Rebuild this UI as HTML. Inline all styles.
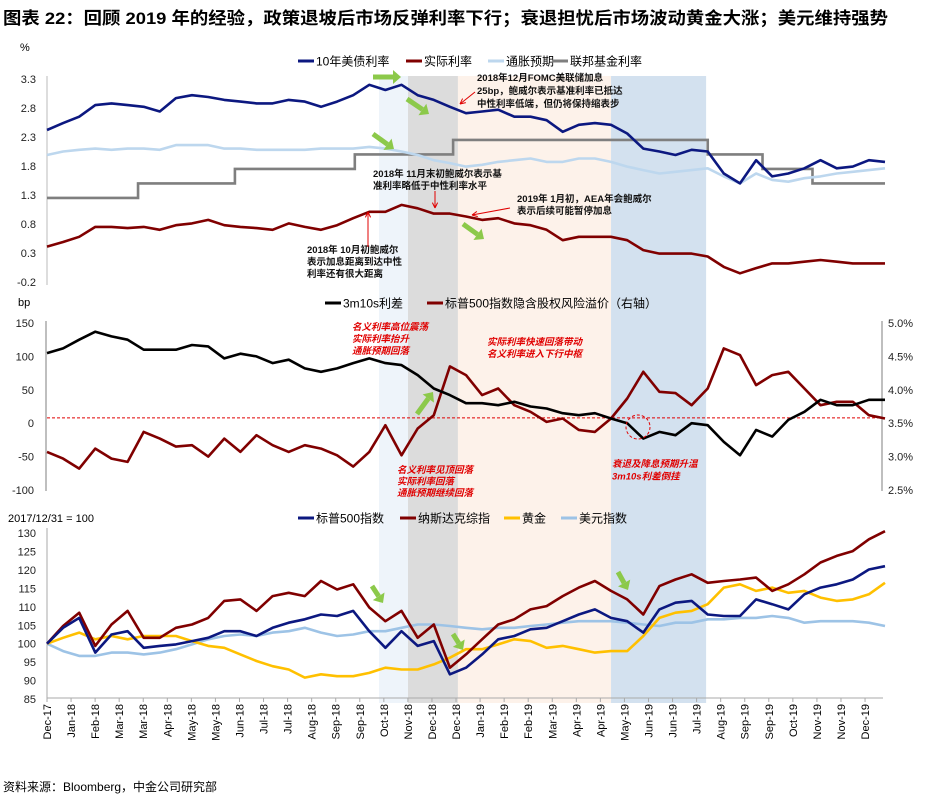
<!DOCTYPE html>
<html><head><meta charset="utf-8"><style>
body{margin:0;background:#fff;width:925px;height:800px;overflow:hidden;font-family:"Liberation Sans","Noto Sans CJK SC",sans-serif;}
svg text{font-family:"Liberation Sans","Noto Sans CJK SC",sans-serif;}
</style></head><body>
<svg id="chart" width="925" height="800" xmlns="http://www.w3.org/2000/svg">
<text x="3" y="24" font-size="17" font-weight="bold" fill="#000" textLength="885" lengthAdjust="spacingAndGlyphs">图表 22：回顾 2019 年的经验，政策退坡后市场反弹利率下行；衰退担忧后市场波动黄金大涨；美元维持强势</text>
<g id="bands"></g>
<g id="g1"></g>
<g id="g2"></g>
<g id="g3"></g>
<g id="ann"></g>
<text x="3" y="791" font-size="12" fill="#000">资料来源：Bloomberg，中金公司研究部</text>
</svg>
<script>
// ---- data (biweekly samples, Jan 2018 - Dec 2019) ----
const tenYear=[2.42,2.54,2.65,2.85,2.88,2.85,2.82,2.74,2.97,3.02,2.99,2.94,2.91,2.88,2.88,2.94,2.91,2.82,2.91,3.02,3.2,3.11,3.2,3.02,2.94,2.82,2.71,2.74,2.77,2.65,2.65,2.59,2.39,2.51,2.54,2.51,2.36,2.1,2.05,1.99,2.08,2.05,1.67,1.5,1.9,1.62,1.67,1.76,1.9,1.76,1.79,1.9,1.87];
const breakeven=[1.99,2.05,2.08,2.1,2.08,2.1,2.1,2.08,2.16,2.16,2.16,2.1,2.1,2.08,2.08,2.08,2.08,2.1,2.1,2.1,2.13,2.1,2.05,1.99,1.9,1.85,1.79,1.82,1.87,1.9,1.93,1.87,1.87,1.93,1.93,1.87,1.79,1.73,1.67,1.70,1.73,1.76,1.62,1.5,1.67,1.56,1.53,1.59,1.62,1.67,1.70,1.73,1.76];
const realRate=[0.41,0.49,0.58,0.75,0.75,0.73,0.75,0.70,0.78,0.81,0.87,0.78,0.75,0.73,0.70,0.81,0.75,0.70,0.78,0.90,1.01,1.01,1.13,1.07,0.98,0.98,0.93,0.87,0.90,0.81,0.78,0.70,0.52,0.58,0.58,0.58,0.52,0.35,0.29,0.29,0.29,0.24,0.06,-0.05,0.04,0.12,0.12,0.15,0.18,0.15,0.12,0.12,0.12];
const fedStart=[0,5.65,11.66,19.1,25.2,41.0,44.4,47.5];
const fedRate=[1.25,1.5,1.75,2.0,2.25,2.0,1.75,1.5];
const spread3m10s=[105,112,125,137,130,125,110,110,110,117,115,97,104,100,90,95,82,77,82,90,97,90,87,72,52,42,30,30,27,32,25,22,15,12,15,7,0,-23,-13,-18,0,-3,-28,-48,-10,-20,5,17,35,27,27,35,35];
const erp=[3.07,2.97,2.82,3.12,2.97,2.92,3.37,3.27,3.15,3.17,3.0,3.27,3.07,3.32,3.17,3.07,3.17,3.12,3.02,2.85,3.07,3.47,3.02,3.42,3.62,4.35,4.22,3.92,4.02,3.77,3.67,3.52,3.57,3.4,3.37,3.57,3.87,4.27,3.97,3.95,3.77,4.02,4.62,4.52,4.07,4.22,4.27,4.02,3.77,3.82,3.82,3.62,3.57];
const erpRef=[3.58];
const sp500=[100,104.3,107,97.6,102.5,103.4,98.9,99.4,99.8,100.7,101.6,103.4,103.4,102.1,104.3,105.7,106.6,107.9,107.5,108.9,103.4,98.9,103.4,99.4,100.7,91.7,93.5,97.1,101.2,102.1,103.9,104.3,106.1,107.9,109.3,107,106.1,103,109.3,111.1,111.6,107.9,107.5,107.5,112,110.7,109.3,113.4,115.2,116.1,117.4,120.1,121];
const nasdaq=[100,104.8,108.4,99.4,105.2,108.9,101.6,101.6,104.3,105.2,107,111.6,112,108.9,112.9,113.8,112.9,117,114.7,116.1,109.8,106.1,108.9,101.6,105.2,93.5,97.1,101.2,105.2,106.6,109.3,110.2,112.9,115.2,117,114.3,112,107.9,115.6,117.4,118.8,116.5,117,117.4,117.9,114.3,116.1,118.8,122,123.8,125.1,128.3,130.5];
const gold=[100,101.6,103,101.2,102.1,101.2,102.1,102.1,102.1,100.7,99.4,98.9,97.1,95.3,93.9,93,90.8,91.7,91.2,91.2,92.1,93.5,93,93,94.4,96.2,98.5,98.5,99.8,101.2,100.7,98.9,99.4,98.5,97.6,98,98,102.1,107,108.4,108.9,110.7,115.2,116.1,114.3,115.2,113.8,114.3,112.5,111.6,112,113.4,116.5];
const usd=[100,98,96.7,96.7,97.6,97.6,97.1,97.6,98.5,99.8,101.2,102.1,102.5,102.1,103,103.4,104.3,103,102.1,102.5,103.4,103.4,104.3,105.2,105.2,104.8,104.3,103.9,104.3,104.3,104.8,105.2,105.7,106.1,106.1,106.1,105.7,105.2,104.8,105.7,105.7,106.6,106.6,107,107,107.5,107,105.7,106.1,106.1,106.1,105.7,104.8];
const topTicks=[3.3,2.8,2.3,1.8,1.3,0.8,0.3,-0.2];
const midTicks=[150,100,50,0,-50,-100];
const rightTicks=[5.0,4.5,4.0,3.5,3.0,2.5];
const botTicks=[130,125,120,115,110,105,100,95,90,85];
const xLabels=["Dec-17","Jan-18","Feb-18","Mar-18","Mar-18","Apr-18","May-18","May-18","Jun-18","Jul-18","Jul-18","Aug-18","Sep-18","Sep-18","Oct-18","Nov-18","Dec-18","Dec-18","Jan-19","Feb-19","Feb-19","Mar-19","Apr-19","Apr-19","May-19","Jun-19","Jun-19","Jul-19","Aug-19","Sep-19","Sep-19","Oct-19","Nov-19","Nov-19","Dec-19"];
const bandStart=[20.6,22.4,25.5,35.0];
const bandEnd=[22.4,25.5,35.0,40.9];
const bandColors=["#eef4fa","#dcdcdc","#fdf2ea","#d3e1ef"];

// ---- axes ----
const X0=47,X1=885,N=52;
function xOf(i){return X0+i*(X1-X0)/N;}
function yTop(v){return 79+(3.3-v)*58;}
function yMid(v){return 323+(150-v)*0.668;}
function yR(p){return 323+(5-p)*66.8;}
function yBot(v){return 533+(130-v)*3.69;}
const NS="http://www.w3.org/2000/svg";
function mk(tag,attrs,parent){const e=document.createElementNS(NS,tag);for(const k in attrs)e.setAttribute(k,attrs[k]);parent.appendChild(e);return e;}
function txt(parent,x,y,s,attrs){const t=mk('text',Object.assign({x:x,y:y},attrs||{}),parent);t.textContent=s;return t;}
function series(parent,arr,yf,color,w,name){
  const d=arr.map((v,i)=>(i?'L':'M')+xOf(i).toFixed(1)+','+yf(v).toFixed(1)).join(' ');
  const p=mk('path',{d:d,fill:'none',stroke:color,'stroke-width':w,'stroke-linejoin':'round'},parent);
  
  
  return p;
}
const bands=document.getElementById('bands');
bandStart.forEach((s,k)=>{
  const r=mk('rect',{x:xOf(s),y:76,width:xOf(bandEnd[k])-xOf(s),height:627,fill:bandColors[k]},bands);
  
  
});

// ---- top panel ----
const g1=document.getElementById('g1');
txt(g1,20,51,'%',{'font-size':11});
topTicks.forEach(v=>{
  const t=txt(g1,36,yTop(v)+4,v.toFixed(1),{'font-size':11,'text-anchor':'end',fill:'#222'});
  
  
});
mk('line',{x1:X0,y1:76,x2:X0,y2:285,stroke:'#bbb','stroke-width':1},g1);
let fd='';
fedStart.forEach((s,k)=>{const x=xOf(s),y=yTop(fedRate[k]);fd+=(k?'L'+x+','+yTop(fedRate[k-1])+' L':'M')+x+','+y+' ';});
fd+='L'+X1+','+yTop(fedRate[fedRate.length-1]);
const fp=mk('path',{d:fd,fill:'none',stroke:'#7f7f7f','stroke-width':2.6},g1);


series(g1,breakeven,yTop,'#bdd7ee',2.6,'breakeven-line');
series(g1,realRate,yTop,'#800000',2.6,'real-rate-line');
series(g1,tenYear,yTop,'#0c1880',2.6,'ten-year-yield-line');
function legend(parent,x,y,color,label,name){
  const g=mk('g',{},parent);
  
  
  mk('line',{x1:x,y1:y,x2:x+16,y2:y,stroke:color,'stroke-width':3},g);
  txt(g,x+18,y+4.5,label,{'font-size':12,fill:'#000'});
}
legend(g1,298,61,'#0c1880','10年美债利率','legend-ten-year');
legend(g1,406,61,'#800000','实际利率','legend-real-rate');
legend(g1,488,61,'#bdd7ee','通胀预期','legend-breakeven');
legend(g1,552,61,'#7f7f7f','联邦基金利率','legend-fed-funds');

// ---- middle panel ----
const g2=document.getElementById('g2');
txt(g2,18,306,'bp',{'font-size':11});
midTicks.forEach(v=>{
  const t=txt(g2,34,yMid(v)+4,String(v),{'font-size':11,'text-anchor':'end',fill:'#222'});
  
  
});
rightTicks.forEach(p=>{
  const t=txt(g2,888,yR(p)+4,p.toFixed(1)+'%',{'font-size':11,fill:'#222'});
  
  
});
mk('line',{x1:46,y1:321,x2:46,y2:491,stroke:'#aaa','stroke-width':1.5},g2);
mk('line',{x1:882,y1:321,x2:882,y2:491,stroke:'#aaa','stroke-width':1.5},g2);
const ref=mk('line',{x1:X0,y1:yR(erpRef[0]),x2:X1,y2:yR(erpRef[0]),stroke:'#e00000','stroke-width':1,'stroke-dasharray':'3,2'},g2);


series(g2,erp,yR,'#800000',2.6,'equity-risk-premium-line');
series(g2,spread3m10s,yMid,'#000',2.6,'spread-3m10s-line');
legend(g2,325,303,'#000','3m10s利差','legend-spread');
legend(g2,427,303,'#800000','标普500指数隐含股权风险溢价（右轴）','legend-erp');

// ---- bottom panel ----
const g3=document.getElementById('g3');
txt(g3,8,522,'2017/12/31 = 100',{'font-size':11});
botTicks.forEach(v=>{
  const t=txt(g3,36,yBot(v)+4,String(v),{'font-size':11,'text-anchor':'end',fill:'#222'});
  
  
});
mk('line',{x1:X0,y1:528,x2:X0,y2:698,stroke:'#aaa','stroke-width':1},g3);
mk('line',{x1:X0,y1:698,x2:X1-2,y2:698,stroke:'#aaa','stroke-width':1},g3);
xLabels.forEach((s,k)=>{
  const x=47+k*24.06;
  mk('line',{x1:x,y1:698,x2:x,y2:702,stroke:'#aaa'},g3);
  const t=txt(g3,0,0,s,{'font-size':11,'text-anchor':'end',fill:'#000',transform:'translate('+(x+4)+',704) rotate(-90)'});
  
  
});
series(g3,usd,yBot,'#9dc3e6',2.6,'usd-index-line');
series(g3,gold,yBot,'#ffc000',2.6,'gold-line');
series(g3,nasdaq,yBot,'#800000',2.6,'nasdaq-line');
series(g3,sp500,yBot,'#0c1880',2.6,'sp500-line');
legend(g3,298,518,'#0c1880','标普500指数','legend-sp500');
legend(g3,400,518,'#800000','纳斯达克综指','legend-nasdaq');
legend(g3,504,518,'#ffc000','黄金','legend-gold');
legend(g3,561,518,'#9dc3e6','美元指数','legend-usd');

// ---- annotations ----
const ann=document.getElementById('ann');
function lines(x,y,arr,attrs,step,name){
  const g=mk('g',{},ann);
  
  
  arr.forEach((s,k)=>txt(g,x,y+k*step,s,attrs));
}
const blk={'font-size':9.5,fill:'#111','font-weight':'bold'};
const red={'font-size':9.5,fill:'#e00000','font-style':'italic','font-weight':'bold'};
lines(477,81,['2018年12月FOMC美联储加息','25bp，鲍威尔表示基准利率已抵达','中性利率低端，但仍将保持缩表步'],blk,13,'annotation-fomc-dec-2018');
lines(373,177,['2018年 11月末初鲍威尔表示基','准利率略低于中性利率水平'],blk,12,'annotation-nov-2018');
lines(517,202,['2019年 1月初，AEA年会鲍威尔','表示后续可能暂停加息'],blk,12,'annotation-jan-2019');
lines(307,253,['2018年 10月初鲍威尔','表示加息距离到达中性','利率还有很大距离'],blk,12,'annotation-oct-2018');
lines(352,330,['名义利率高位震荡','实际利率抬升','通胀预期回落'],red,12,'annotation-phase-1');
lines(397,473,['名义利率见顶回落','实际利率回落','通胀预期继续回落'],red,11.5,'annotation-phase-2');
lines(487,345,['实际利率快速回落带动','名义利率进入下行中枢'],red,12,'annotation-phase-3');
lines(612,467,['衰退及降息预期升温','3m10s利差倒挂'],red,12.5,'annotation-phase-4');
const circ=mk('circle',{cx:638,cy:427,r:12,fill:'none',stroke:'#e00000','stroke-dasharray':'3,2'},ann);


function redArrow(x1,y1,x2,y2,name){
  const g=mk('g',{},ann);
  
  
  mk('line',{x1:x1,y1:y1,x2:x2,y2:y2,stroke:'#e00000','stroke-width':1},g);
  const a=Math.atan2(y2-y1,x2-x1),L=6;
  mk('path',{d:'M'+x2+','+y2+' L'+(x2-L*Math.cos(a-0.45))+','+(y2-L*Math.sin(a-0.45))+' M'+x2+','+y2+' L'+(x2-L*Math.cos(a+0.45))+','+(y2-L*Math.sin(a+0.45)),stroke:'#e00000',fill:'none'},g);
}
redArrow(368,247,368,212,'arrow-oct-2018');
redArrow(435,191,435,208,'arrow-nov-2018');
redArrow(510,208,472,215,'arrow-jan-2019');
redArrow(475,92,460,104,'arrow-fomc');
function greenArrow(x1,y1,x2,y2,name){
  const g=mk('g',{},ann);
  
  
  const a=Math.atan2(y2-y1,x2-x1),L=8,ux=Math.cos(a),uy=Math.sin(a);
  const bx=x2-ux*L,by=y2-uy*L;
  mk('line',{x1:x1,y1:y1,x2:bx,y2:by,stroke:'#8cc94a','stroke-width':5},g);
  mk('path',{d:'M'+x2+','+y2+' L'+(bx-uy*7)+','+(by+ux*7)+' L'+(bx+uy*7)+','+(by-ux*7)+' Z',fill:'#8cc94a'},g);
}
greenArrow(373,77,401,77,'green-arrow-1');
greenArrow(407,99,429,114,'green-arrow-2');
greenArrow(373,134,394,149,'green-arrow-3');
greenArrow(463,224,484,239,'green-arrow-4');
greenArrow(417,414,433,392,'green-arrow-5');
greenArrow(372,586,383,603,'green-arrow-6');
greenArrow(453,634,463,650,'green-arrow-7');
greenArrow(618,572,628,590,'green-arrow-8');
</script>
</body></html>
